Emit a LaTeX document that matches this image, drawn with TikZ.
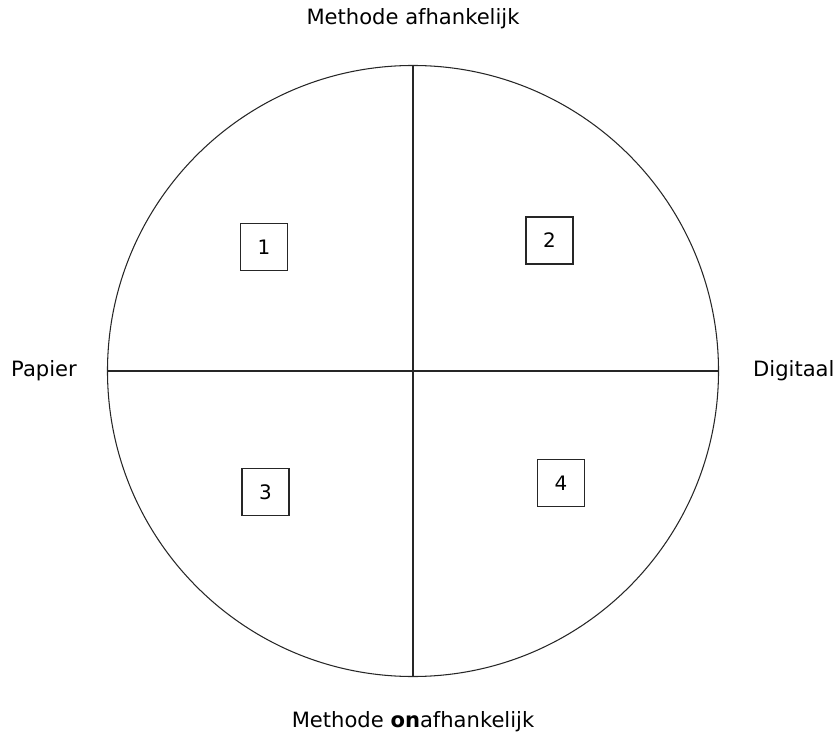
\documentclass[tikz,border=0pt]{standalone}
\usepackage{fontspec}
\setmainfont{DejaVu Sans}
\usetikzlibrary{
  positioning
}
\tikzset{
  disc/.style={
    circle,
    draw=black!85,
    line width=0.9pt,
    minimum size=18.33cm,
    inner sep=0pt
  },
  axis/.style={line width=0.9pt,draw=black!85},
  box/.style={
    draw=black!85,
    line width=0.9pt,
    minimum size=1.41cm,
    inner sep=0pt,
    font=\fontsize{17}{20}\selectfont
  },
  axislabel/.style={font=\fontsize{18}{22}\selectfont,align=center}
}

\begin{document}
\begin{tikzpicture}[x=0.03cm,y=-0.03cm]
  \useasboundingbox (0,0) rectangle (835,733);

  \node[disc] (disc) at (413,371) {};
  \draw[axis] (disc.north) -- (disc.south);
  \draw[axis] (disc.west) -- (disc.east);

  \node[axislabel,above=0.95cm of disc] (top) {Methode afhankelijk};
  \node[axislabel,below=0.9cm of disc] (bottom) {Methode \textbf{on}afhankelijk};
  \node[axislabel,left=0.78cm of disc] (paper) {Papier};
  \node[axislabel,right=0.9cm of disc] (digital) {Digitaal};

  \node[box] (q1) at (264,247) {1};
  \node[box] (q2) at (549.5,240.5) {2};
  \node[box] (q3) at (265.5,492) {3};
  \node[box] (q4) at (561,483) {4};
\end{tikzpicture}
\end{document}
